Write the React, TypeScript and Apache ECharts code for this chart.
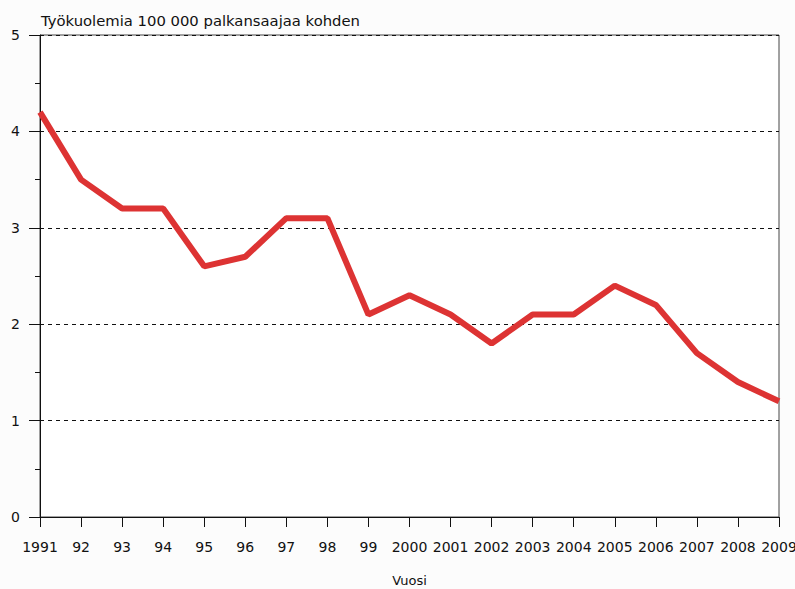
import React, { useEffect, useRef } from "react";
import * as echarts from "echarts";

const years = ["1991", "92", "93", "94", "95", "96", "97", "98", "99", "2000", "2001", "2002", "2003", "2004", "2005", "2006", "2007", "2008", "2009"];
const deaths = [4.2, 3.5, 3.2, 3.2, 2.6, 2.7, 3.1, 3.1, 2.1, 2.3, 2.1, 1.8, 2.1, 2.1, 2.4, 2.2, 1.7, 1.4, 1.2];
const titleText = "Työkuolemia 100 000 palkansaajaa kohden";
const xName = "Vuosi";

export default function App() {
  const ref = useRef<HTMLDivElement>(null);
  useEffect(() => {
    if (!ref.current) return;
    const chart = echarts.init(ref.current, null, { renderer: "svg" });
    const font = "DejaVu Sans";
    chart.setOption({
      animation: false,
      backgroundColor: "#fcfcfc",
      textStyle: { fontFamily: font },
      title: {
        text: titleText,
        left: 36,
        top: 8,
        textStyle: { fontFamily: font, fontSize: 14.8, fontWeight: "normal", color: "#111" },
      },
      grid: {
        left: 40,
        top: 35,
        right: 16,
        bottom: 72,
        containLabel: false,
        outerBoundsMode: "none",
        show: true,
        backgroundColor: "#ffffff",
        borderColor: "#444",
        borderWidth: 1,
      },
      xAxis: {
        type: "category",
        data: years,
        boundaryGap: false,
        name: xName,
        nameLocation: "middle",
        nameGap: 57,
        nameTextStyle: { fontFamily: font, fontSize: 13, color: "#111", verticalAlign: "top" },
        axisLine: { lineStyle: { color: "#111", width: 1 } },
        axisTick: { show: true, length: 10, inside: false, lineStyle: { color: "#111" } },
        axisLabel: { margin: 23, fontSize: 14, color: "#111", interval: 0, fontFamily: font, hideOverlap: false },
        splitLine: { show: false },
      },
      yAxis: {
        type: "value",
        min: 0,
        max: 5,
        interval: 1,
        axisLine: { show: true, lineStyle: { color: "#111", width: 1 } },
        axisTick: { show: true, length: 11, lineStyle: { color: "#111" } },
        minorTick: { show: true, splitNumber: 2, length: 5, lineStyle: { color: "#111" } },
        axisLabel: { margin: 20, fontSize: 14, color: "#111", fontFamily: font },
        splitLine: { show: true, lineStyle: { color: "#111", type: [4, 4], width: 1 } },
      },
      series: [
        {
          type: "line",
          data: deaths,
          symbol: "none",
          lineStyle: { color: "#dd3333", width: 6 },
          clip: false,
        },
      ],
    });
    return () => chart.dispose();
  }, []);
  return <div ref={ref} style={{ width: 795, height: 589, position: "absolute", left: 0, top: 0 }} />;
}
